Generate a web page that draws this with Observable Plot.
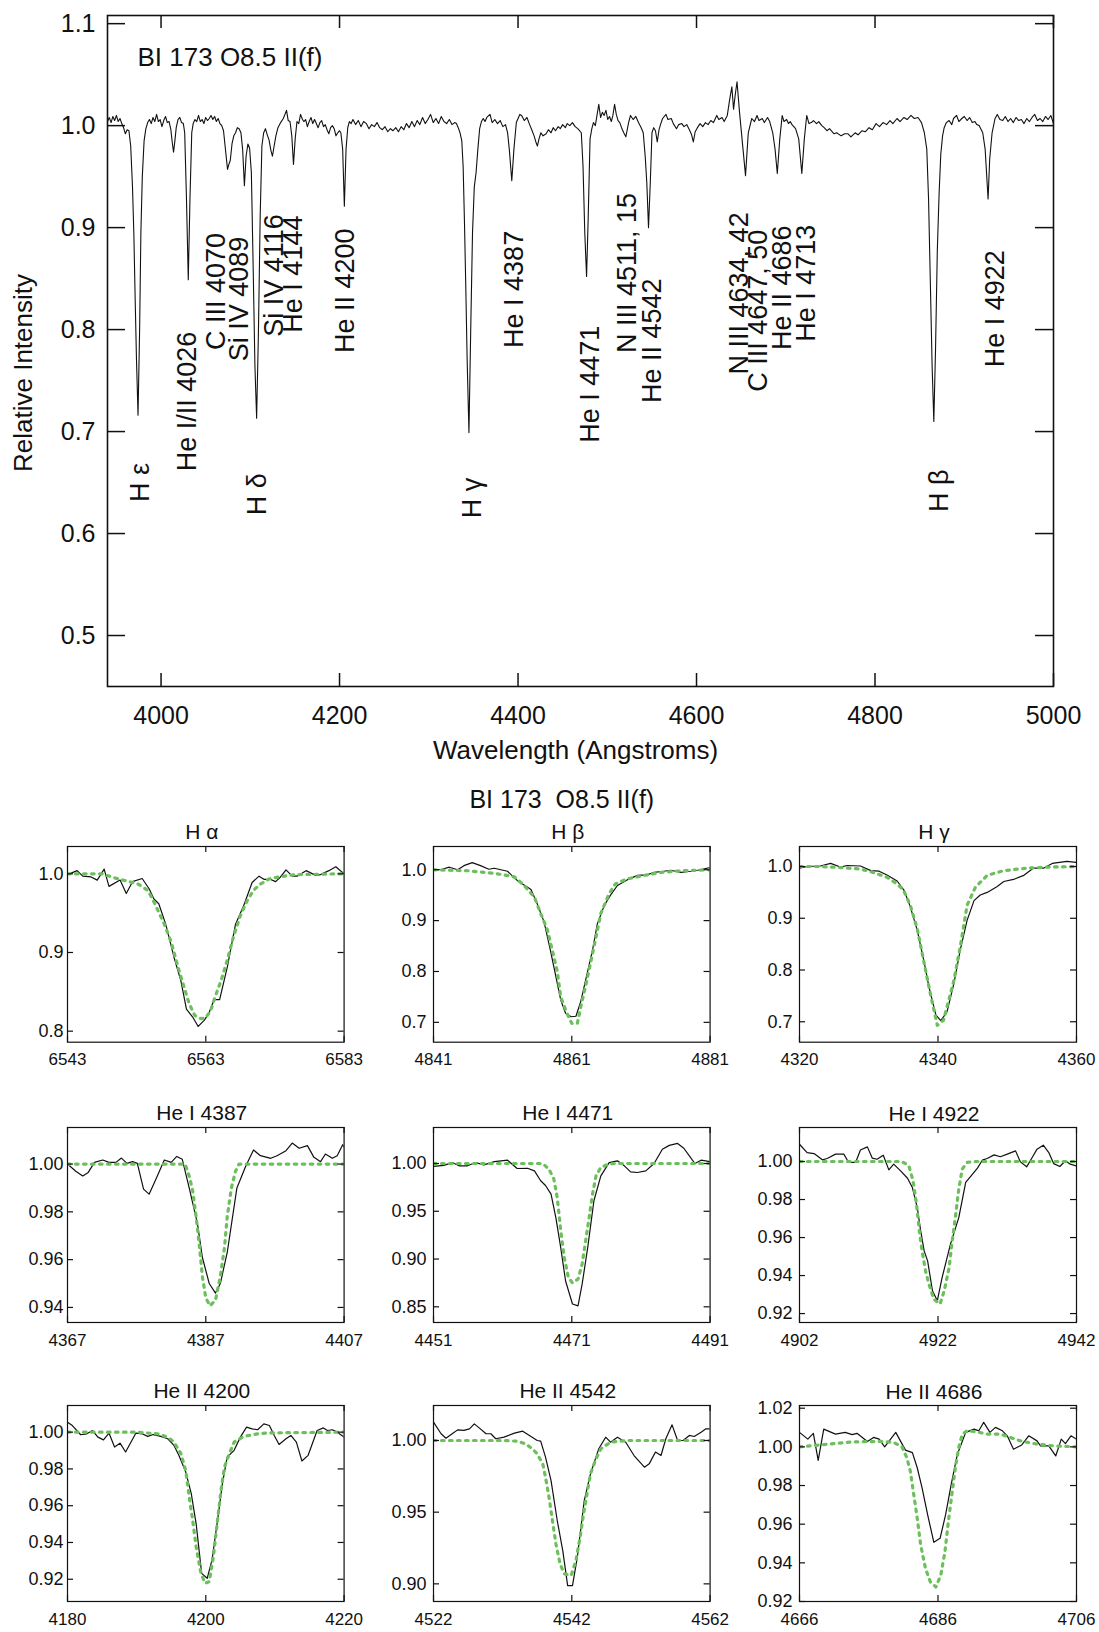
<!DOCTYPE html>
<html><head><meta charset="utf-8">
<script src="https://cdn.jsdelivr.net/npm/d3@7"></script>
<script src="https://cdn.jsdelivr.net/npm/@observablehq/plot@0.6"></script>
<style>
body{margin:0;background:#fff;}
#root{position:relative;width:1099px;height:1632px;overflow:hidden;background:#fff;}
#root svg{position:absolute;}
</style></head><body><div id="root"></div>
<script>
// ---------------- DATA ----------------
const topTitle = "BI 173 O8.5 II(f)";
const gridTitle = "BI 173  O8.5 II(f)";
const topXTicks = [4000, 4200, 4400, 4600, 4800, 5000];
const topYTicks = [0.5, 0.6, 0.7, 0.8, 0.9, 1.0, 1.1];
const topSpectrum = [
[3940,1.004],[3942,1.008],[3944,1.003],[3946,1.009],[3948,1.005],[3950,1.010],[3952,1.004],[3954,1.007],[3956,1.002],[3958,0.998],[3960,0.992],[3962,0.996],[3964,0.995],[3966,0.980],[3968,0.940],[3969.5,0.895],[3971,0.830],[3972.5,0.770],[3974.2,0.716],[3976,0.800],[3977.4,0.895],[3979,0.950],[3981,0.985],[3983,0.997],[3985,1.003],[3987,1.006],[3989,1.002],[3991,1.008],[3993,1.004],[3995,1.011],[3997,1.004],[3999,1.006],[4001,0.999],[4003,1.005],[4005,1.009],[4007,1.003],[4009,1.004],[4011,0.996],[4012.5,0.984],[4014,0.974],[4015.5,0.985],[4017,0.998],[4019,1.006],[4021,1.008],[4023,1.003],[4025,1.002],[4026.5,0.993],[4028.5,0.928],[4030.5,0.849],[4032.4,0.928],[4034.4,0.993],[4036,1.002],[4038,1.006],[4040,1.004],[4042,1.010],[4044,1.004],[4046,1.006],[4048,1.002],[4050,1.008],[4052,1.005],[4054,1.007],[4056,1.010],[4058,1.006],[4060,1.009],[4062,1.004],[4064,1.007],[4066,1.002],[4068,1.000],[4070,0.995],[4072,0.978],[4074.5,0.957],[4076,0.962],[4077.6,0.966],[4079.5,0.982],[4081.5,0.990],[4083.5,0.993],[4085.5,0.998],[4087.5,0.997],[4089.5,0.993],[4091.4,0.977],[4093.4,0.941],[4095.3,0.970],[4097.3,0.982],[4099.2,0.978],[4101.2,0.954],[4103.2,0.862],[4105.2,0.764],[4107.1,0.713],[4109.1,0.797],[4111.1,0.912],[4113,0.980],[4115,0.993],[4117,0.997],[4119,0.991],[4121,0.986],[4123,0.976],[4124.8,0.970],[4126.7,0.980],[4128.7,0.990],[4131,0.998],[4134,1.003],[4137,1.007],[4140.6,1.015],[4142.5,1.005],[4144.5,1.004],[4146.5,0.990],[4148.4,0.962],[4150.3,0.987],[4152.3,1.004],[4154.3,1.002],[4156.3,1.011],[4158.5,1.006],[4160,1.004],[4162,1.006],[4164,0.999],[4166,1.004],[4168,1.008],[4170,1.002],[4172,1.006],[4174,1.002],[4176,0.998],[4178,1.003],[4180,1.005],[4182,0.999],[4184,1.001],[4186,0.996],[4188,0.992],[4190,0.998],[4192,1.000],[4194,0.997],[4196,0.990],[4198,0.993],[4200,0.995],[4201.5,0.993],[4203.5,0.977],[4205.4,0.921],[4207.3,0.977],[4209.2,0.998],[4211,1.004],[4213,1.002],[4215,1.006],[4218,1.001],[4221,1.005],[4224,0.999],[4227,1.004],[4230,1.002],[4233,0.997],[4236,1.001],[4239,0.999],[4242,1.003],[4245,0.998],[4248,0.996],[4251,0.999],[4254,0.994],[4257,0.997],[4260,0.995],[4263,0.998],[4266,0.994],[4269,0.999],[4272,0.996],[4275,1.002],[4278,0.998],[4281,1.004],[4284,0.999],[4287,1.005],[4290,1.001],[4293,1.008],[4296,1.002],[4299,1.006],[4302,1.011],[4305,1.003],[4308,1.007],[4311,1.002],[4314,1.009],[4317,1.004],[4320,1.002],[4323,1.006],[4326,1.001],[4329,1.003],[4331,1.002],[4333,0.998],[4335,0.993],[4337,0.985],[4338.5,0.960],[4340,0.905],[4341.5,0.840],[4343,0.770],[4345,0.699],[4347,0.800],[4349,0.895],[4351,0.940],[4353,0.954],[4355,0.977],[4357,0.997],[4359,1.004],[4361,1.007],[4363,1.004],[4365,1.008],[4368.6,1.011],[4371,1.003],[4374,1.006],[4377,1.002],[4380,1.005],[4383,0.999],[4386,1.001],[4388.3,0.993],[4390.2,0.977],[4393,0.946],[4395.4,0.977],[4398.1,1.003],[4402,1.011],[4404,1.010],[4407,1.005],[4410,1.008],[4413,1.001],[4415.8,0.995],[4418,0.990],[4420,0.984],[4421.7,0.980],[4423.5,0.987],[4425.6,0.993],[4428,0.990],[4431.5,0.992],[4434,0.996],[4437,0.993],[4439.4,0.998],[4442,0.995],[4445,0.999],[4447.3,0.997],[4450,1.001],[4453,0.998],[4455.1,1.002],[4458,1.000],[4461,1.003],[4464,0.999],[4466.9,0.997],[4469,0.995],[4470.9,0.993],[4472.8,0.961],[4474.8,0.895],[4476.8,0.852],[4478.7,0.912],[4480.7,0.987],[4482.7,0.997],[4484.5,1.003],[4486.6,1.000],[4488.5,1.010],[4490.5,1.021],[4492.5,1.008],[4494.5,1.013],[4496.5,1.010],[4498.5,1.015],[4500.5,1.006],[4502.5,1.009],[4504.5,1.004],[4506.3,1.010],[4508.2,1.021],[4510.1,1.011],[4512.1,1.005],[4514,1.003],[4516,0.998],[4518.5,0.993],[4520.8,0.989],[4523.9,1.003],[4526,1.010],[4529,1.006],[4532,1.009],[4535,1.003],[4538,0.998],[4540.3,0.993],[4542.5,0.970],[4544.3,0.944],[4546.2,0.900],[4548.2,0.944],[4550.1,0.993],[4552,0.998],[4554,0.995],[4556,0.984],[4558,0.996],[4560,1.002],[4562,1.007],[4565.8,1.011],[4568,1.006],[4571.7,1.007],[4574,1.002],[4577.6,0.997],[4580,1.001],[4583.5,1.002],[4586,0.999],[4589,1.001],[4592,0.996],[4594.5,0.991],[4596.4,0.984],[4598.5,0.994],[4601,0.998],[4604,1.002],[4607,0.999],[4610,1.003],[4613,1.001],[4616,1.005],[4619,1.003],[4622.7,1.010],[4625,1.006],[4628.6,1.008],[4631,1.004],[4634.5,1.010],[4637.2,1.026],[4639.6,1.038],[4641.5,1.016],[4643.5,1.031],[4645.4,1.043],[4648.2,1.013],[4652.1,0.977],[4654.9,0.951],[4658,0.993],[4661.9,1.007],[4665,1.004],[4667.8,1.010],[4670,1.005],[4673.7,1.007],[4676,1.003],[4679.6,1.008],[4682,1.004],[4685.4,0.993],[4688,0.977],[4690.5,0.953],[4693.3,0.987],[4696,1.010],[4698,1.004],[4701,1.006],[4703,1.002],[4705,1.004],[4707,1.001],[4711,0.997],[4714.5,0.987],[4718,0.953],[4720.8,0.987],[4723.5,1.010],[4726,1.002],[4728.6,1.003],[4731,1.005],[4734.5,1.002],[4737,1.004],[4740.4,1.000],[4743,0.998],[4746.2,0.995],[4749,0.997],[4754.1,0.992],[4757,0.993],[4762,0.990],[4766,0.992],[4769.8,0.992],[4773,0.989],[4777.7,0.993],[4781,0.991],[4785.5,0.995],[4789,0.994],[4793.3,0.998],[4797,0.996],[4801.2,1.002],[4805,0.999],[4809,1.003],[4813,1.001],[4816.8,1.005],[4820,1.002],[4824.7,1.007],[4828,1.004],[4832.5,1.008],[4836,1.006],[4840.3,1.010],[4844,1.007],[4848.2,1.008],[4852.1,1.003],[4855.3,0.993],[4858,0.977],[4860,0.928],[4862,0.846],[4864,0.764],[4865.9,0.710],[4867.8,0.780],[4869.8,0.877],[4871.8,0.933],[4873.7,0.972],[4875.7,0.990],[4877.5,0.998],[4880,1.003],[4883,1.005],[4886,1.001],[4888,1.007],[4891.4,1.010],[4894,1.004],[4897.3,1.007],[4900,1.009],[4903.2,1.005],[4906,1.008],[4909,1.003],[4912,1.004],[4914,1.001],[4916.8,1.000],[4920.7,0.993],[4923.4,0.977],[4926.7,0.928],[4928.5,0.967],[4931.2,0.993],[4934.5,1.007],[4937,1.011],[4940,1.006],[4943.2,1.005],[4946,1.009],[4949,1.004],[4952,1.007],[4955,1.003],[4958,1.008],[4961,1.005],[4964,1.006],[4967,1.002],[4970,1.007],[4973,1.004],[4976,1.008],[4979,1.011],[4982,1.005],[4985,1.007],[4988,1.004],[4991,1.009],[4994,1.006],[4997,1.010],[5000,1.002]
];
const lineLabels = [
  {text:"H ε", x:3977, y:0.631},
  {text:"He I/II 4026", x:4030, y:0.661},
  {text:"C III 4070", x:4062, y:0.780},
  {text:"Si IV 4089", x:4087.5, y:0.769},
  {text:"H δ", x:4108, y:0.618},
  {text:"Si IV 4116", x:4127, y:0.793},
  {text:"He I 4144", x:4148, y:0.797},
  {text:"He II 4200", x:4207, y:0.777},
  {text:"H γ", x:4348.5, y:0.615},
  {text:"He I 4387", x:4396, y:0.782},
  {text:"He I 4471", x:4480.5, y:0.689},
  {text:"N III 4511, 15", x:4522, y:0.777},
  {text:"He II 4542", x:4551, y:0.728},
  {text:"N III 4634, 42", x:4648, y:0.756},
  {text:"C III 4647, 50", x:4669.5, y:0.739},
  {text:"He II 4686", x:4696, y:0.780},
  {text:"He I 4713", x:4722.7, y:0.788},
  {text:"H β", x:4872, y:0.621},
  {text:"He I 4922", x:4934.5, y:0.763}
];

const panelTitles = ["H α","H β","H γ","He I 4387","He I 4471","He I 4922","He II 4200","He II 4542","He II 4686"];
const panelXTicks = [[6543,6563,6583],[4841,4861,4881],[4320,4340,4360],[4367,4387,4407],[4451,4471,4491],[4902,4922,4942],[4180,4200,4220],[4522,4542,4562],[4666,4686,4706]];
const panelYTicks = [[0.8,0.9,1.0],[0.7,0.8,0.9,1.0],[0.7,0.8,0.9,1.0],[0.94,0.96,0.98,1.00],[0.85,0.90,0.95,1.00],[0.92,0.94,0.96,0.98,1.00],[0.92,0.94,0.96,0.98,1.00],[0.90,0.95,1.00],[0.92,0.94,0.96,0.98,1.00,1.02]];

const haObs = [[6543,0.999],[6544.4,1.004],[6545.2,0.997],[6546.4,0.996],[6547.3,0.992],[6548.3,1.006],[6549.0,0.984],[6550.6,0.992],[6551.5,0.975],[6552.4,0.990],[6553.8,0.994],[6554.8,0.981],[6555.5,0.968],[6556.2,0.962],[6557.2,0.936],[6558.4,0.894],[6559.4,0.864],[6560.2,0.828],[6561.1,0.818],[6561.9,0.806],[6562.8,0.814],[6563.5,0.824],[6564.2,0.840],[6565.0,0.840],[6566.1,0.881],[6567.3,0.936],[6568.5,0.960],[6569.7,0.989],[6570.7,0.997],[6571.4,0.993],[6572.3,0.993],[6573.1,0.990],[6573.8,0.996],[6574.6,1.005],[6575.5,0.997],[6576.2,0.997],[6577.5,1.004],[6578.9,0.998],[6579.6,0.999],[6580.8,1.004],[6581.8,1.009],[6583,1.0]];
const haModel = [[6543,1.0],[6548,1.0],[6549.7,0.995],[6551.5,0.991],[6553.2,0.987],[6554.6,0.979],[6555.3,0.968],[6557,0.936],[6558,0.913],[6559,0.881],[6560,0.852],[6560.6,0.835],[6561.4,0.82],[6562.3,0.816],[6563,0.817],[6563.7,0.826],[6564.4,0.845],[6565.2,0.864],[6566.1,0.89],[6567,0.92],[6568,0.947],[6569,0.966],[6569.9,0.979],[6570.9,0.987],[6572.3,0.994],[6573.5,0.996],[6576,0.999],[6583,1.0]];
const hbObs = [[4841,1.0],[4842,1.0],[4843.3,1.005],[4844.5,1.0],[4845.4,1.008],[4846.6,1.014],[4847.8,1.008],[4849,1.001],[4849.8,1.003],[4851.7,0.997],[4853.1,0.979],[4855.1,0.961],[4856,0.933],[4857,0.897],[4857.9,0.842],[4858.7,0.79],[4859.4,0.744],[4860.1,0.718],[4860.9,0.711],[4861.6,0.712],[4862.3,0.741],[4863,0.783],[4864,0.842],[4864.7,0.894],[4865.7,0.93],[4866.6,0.95],[4867.6,0.969],[4869,0.98],[4870.5,0.989],[4871.9,0.99],[4872.9,0.995],[4874.3,0.997],[4875.3,0.999],[4876.8,0.995],[4878.2,0.997],[4879.2,0.999],[4881,1.004]];
const hbModel = [[4841,1.0],[4846,0.998],[4849,0.994],[4850.7,0.991],[4852.7,0.986],[4854.1,0.969],[4855.6,0.946],[4856.5,0.914],[4857.5,0.881],[4858.9,0.8],[4859.4,0.75],[4860.3,0.718],[4861,0.698],[4861.8,0.698],[4862.3,0.73],[4863.3,0.79],[4864.2,0.848],[4865.2,0.914],[4866.4,0.953],[4867.3,0.972],[4869,0.982],[4871.5,0.989],[4874,0.995],[4877,0.998],[4881,1.0]];
const hgObs = [[4320,0.997],[4321.1,1.0],[4323,1.001],[4324.5,1.006],[4325.9,0.999],[4326.9,1.002],[4328.8,1.001],[4330.3,0.992],[4331.5,0.991],[4332.7,0.983],[4334.1,0.972],[4335.1,0.954],[4336,0.922],[4337,0.877],[4338,0.815],[4338.7,0.767],[4339.7,0.713],[4340.4,0.702],[4341.3,0.719],[4342.3,0.774],[4343.2,0.838],[4344.2,0.896],[4345.2,0.934],[4346.1,0.945],[4347.1,0.95],[4348.5,0.961],[4349.5,0.971],[4350.9,0.975],[4352.4,0.983],[4353.8,0.997],[4355.3,0.997],[4356.5,1.006],[4358.6,1.01],[4360,1.008]];
const hgModel = [[4320,1.0],[4323,1.0],[4326,0.998],[4328.8,0.995],[4330.3,0.99],[4332.7,0.979],[4334.1,0.966],[4335,0.955],[4336,0.925],[4337,0.88],[4338.2,0.8],[4338.9,0.754],[4339.9,0.693],[4340.8,0.703],[4342.3,0.78],[4343.2,0.844],[4344.2,0.925],[4345.4,0.96],[4347.1,0.983],[4349.5,0.992],[4352.9,0.997],[4356,0.999],[4360,1.0]];
const he4387Obs = [[4367,1.0],[4368.2,0.997],[4369.2,0.995],[4370,0.9965],[4370.9,1.0007],[4372.1,1.0017],[4373,1.0007],[4374,1.0007],[4374.8,1.0025],[4375.6,1.0003],[4376.4,1.001],[4377.1,1.0003],[4378,0.9895],[4378.8,0.9874],[4379.8,0.9937],[4381,1.0017],[4382,1.0007],[4382.8,1.0032],[4383.6,1.002],[4384.6,0.99],[4385.8,0.975],[4386.5,0.961],[4387.5,0.95],[4388.4,0.946],[4389.1,0.95],[4390.1,0.963],[4391.5,0.99],[4392.8,0.9993],[4393.9,1.0059],[4394.9,1.0035],[4396.4,1.0024],[4397.3,1.0035],[4398.6,1.0056],[4399.5,1.0088],[4400.5,1.0066],[4401.7,1.0077],[4402.6,1.003],[4403.6,1.001],[4404.3,1.0042],[4405.3,1.0024],[4406,1.0035],[4406.8,1.0081],[4407,1.007]];
const he4387Model = [[4367,1.0],[4384,1.0],[4384.6,0.995],[4385.1,0.989],[4385.6,0.978],[4386.1,0.965],[4386.5,0.953],[4387,0.944],[4387.6,0.9407],[4388.4,0.943],[4389.1,0.953],[4389.7,0.965],[4390.1,0.978],[4390.7,0.99],[4391.3,0.997],[4391.8,1.0],[4407,1.0]];
const he4471Obs = [[4451,0.997],[4452.5,0.998],[4453.7,1.001],[4454.7,0.9976],[4455.9,0.9976],[4457.1,1.001],[4458.3,0.9986],[4459.8,1.002],[4461.7,1.0035],[4463.1,0.9948],[4464.6,0.995],[4465.6,0.9923],[4466.5,0.982],[4467.2,0.977],[4468,0.968],[4468.7,0.943],[4469.4,0.912],[4470.1,0.877],[4471.1,0.853],[4471.9,0.851],[4472.5,0.874],[4473.3,0.912],[4474.2,0.961],[4475.2,0.987],[4476.4,1.001],[4477.6,1.0028],[4478.6,0.9976],[4479.5,0.9913],[4480.5,0.9906],[4481.7,0.9923],[4482.9,1.0],[4484.1,1.015],[4485.1,1.019],[4486.3,1.021],[4487.2,1.016],[4488,1.008],[4488.8,1.0],[4489.7,1.0035],[4491,1.002]];
const he4471Model = [[4451,1.0],[4466.8,1.0],[4467.7,0.994],[4468.4,0.984],[4468.9,0.964],[4469.4,0.93],[4469.9,0.902],[4470.5,0.881],[4471.1,0.875],[4471.9,0.879],[4472.5,0.895],[4473,0.919],[4473.5,0.943],[4474,0.968],[4474.5,0.987],[4475.2,0.996],[4476.2,0.999],[4477,1.0],[4491,1.0]];
const he4922Obs = [[4902,1.0091],[4903.1,1.0047],[4904.1,1.0042],[4905.3,1.0009],[4906,1.0016],[4907.2,1.0039],[4908.4,1.0039],[4909.1,0.9995],[4910.1,0.9995],[4910.8,1.0061],[4911.8,1.0077],[4912.5,1.0018],[4913.2,1.0012],[4914.1,1.0033],[4914.9,0.9956],[4915.6,0.9986],[4916.6,0.9951],[4917.6,0.9912],[4918.3,0.9863],[4919,0.9758],[4919.5,0.9635],[4920,0.953],[4920.5,0.9477],[4921.2,0.932],[4921.9,0.9267],[4922.6,0.939],[4923.8,0.9565],[4925,0.9705],[4926,0.989],[4926.9,0.993],[4927.7,0.9965],[4928.4,1.0007],[4929.1,1.0016],[4930.1,1.0035],[4931,1.0025],[4932,1.0039],[4933.2,1.0056],[4933.9,0.9998],[4934.8,0.9972],[4935.6,1.0021],[4936.3,1.0065],[4937.2,1.0086],[4938,1.0047],[4938.7,0.9989],[4939.6,0.9974],[4940.4,1.0004],[4941.1,0.9986],[4942,0.9977]];
const he4922Model = [[4902,1.0],[4916.8,1.0],[4917.8,0.9977],[4918.4,0.9898],[4918.9,0.9775],[4919.3,0.9635],[4919.7,0.953],[4920.2,0.9425],[4920.7,0.9354],[4921.4,0.9275],[4922.3,0.925],[4922.9,0.932],[4923.6,0.944],[4924,0.9565],[4924.5,0.9705],[4925,0.9854],[4925.5,0.996],[4926.2,0.9995],[4927,1.0],[4942,1.0]];
const he4200Obs = [[4180,1.0054],[4180.7,1.0036],[4181.9,0.9986],[4182.8,0.9991],[4183.6,1.0009],[4184.4,0.9973],[4185.2,0.9958],[4186,0.9995],[4186.8,0.9919],[4187.6,0.994],[4188.4,0.9892],[4189.9,0.9995],[4190.8,0.9991],[4191.6,0.9977],[4192.4,0.9987],[4193.5,0.9977],[4194.5,0.9964],[4195.4,0.9928],[4196.1,0.9874],[4197.1,0.9783],[4197.9,0.9666],[4198.6,0.9503],[4199.4,0.9232],[4200.2,0.9205],[4200.9,0.9305],[4201.7,0.9521],[4202.4,0.972],[4203.1,0.9865],[4204.1,0.9901],[4205,0.9973],[4205.9,1.0027],[4206.7,1.0018],[4207.5,1.0013],[4208.4,1.0045],[4209.2,1.0036],[4209.9,0.9982],[4210.6,0.9933],[4211.6,0.9964],[4212.3,0.9982],[4213.1,0.9946],[4213.9,0.9843],[4214.8,0.9874],[4216.1,1.0009],[4217,1.0023],[4217.6,1.0009],[4218.3,1.0013],[4219,1.0],[4220,0.9973]];
const he4200Model = [[4180,1.0],[4190,1.0],[4193,0.9991],[4194.5,0.9973],[4195.4,0.9946],[4196.4,0.9883],[4197.1,0.9792],[4197.6,0.9648],[4198.1,0.9521],[4198.6,0.9377],[4199.3,0.9232],[4199.9,0.9178],[4200.5,0.9187],[4201.1,0.9323],[4201.7,0.9521],[4202.2,0.9684],[4202.7,0.981],[4203.4,0.9883],[4204.1,0.9946],[4205.5,0.9977],[4207.5,0.9991],[4209,0.9996],[4220,1.0]];
const he4542Obs = [[4522,1.0128],[4523.1,1.0047],[4523.8,1.0016],[4524.7,1.0047],[4525.5,1.0074],[4526.4,1.007],[4527.2,1.0081],[4527.9,1.0116],[4528.6,1.0088],[4529.6,1.0047],[4530.3,1.0047],[4531,1.0012],[4532.2,1.0023],[4533.7,1.0051],[4534.9,1.0065],[4536.1,1.0028],[4537,1.0],[4537.5,0.9995],[4538.2,0.9884],[4539,0.972],[4539.9,0.944],[4540.7,0.923],[4541.4,0.8988],[4542.1,0.8988],[4542.8,0.9186],[4543.8,0.9581],[4544.7,0.9767],[4545.9,0.9942],[4546.9,1.0023],[4547.6,0.9988],[4548.6,1.0023],[4549.8,0.9988],[4551,0.9895],[4552.5,0.9814],[4553.2,0.9837],[4554.1,0.9919],[4554.9,0.9895],[4555.6,1.0012],[4556.5,1.0109],[4557.3,1.0],[4558.1,1.0],[4559,1.0035],[4559.7,1.0028],[4560.7,1.0058],[4561.4,1.0081],[4562,1.0081]];
const he4542Model = [[4522,1.0],[4532.2,1.0],[4534.1,0.9995],[4535.3,0.9977],[4536.3,0.9942],[4537,0.9907],[4537.8,0.9837],[4538.2,0.9744],[4538.7,0.9605],[4539.2,0.9442],[4539.7,0.9279],[4540.3,0.914],[4540.9,0.907],[4541.9,0.9058],[4542.6,0.9163],[4543.2,0.9326],[4543.7,0.9488],[4544.2,0.9628],[4544.7,0.9767],[4545.5,0.9872],[4546.2,0.9942],[4547.6,0.9988],[4550,1.0],[4562,1.0]];
const he4686Obs = [[4666,1.0075],[4667.2,1.004],[4668,1.007],[4668.7,0.993],[4669.5,1.0092],[4671.2,1.0066],[4672.6,1.0075],[4673.6,1.0063],[4674.3,1.007],[4675.8,1.0028],[4676.7,1.0049],[4677.5,1.004],[4678.3,1.0],[4679.9,1.0075],[4681.3,0.9983],[4682.3,0.997],[4683,0.9892],[4683.7,0.9788],[4684.5,0.9649],[4685.4,0.9506],[4686.3,0.9527],[4687.1,0.9649],[4687.9,0.9805],[4688.8,0.9962],[4690,1.0075],[4691.2,1.0092],[4691.9,1.0083],[4692.6,1.0127],[4693.5,1.0075],[4694.3,1.0101],[4695.3,1.0083],[4696,1.0057],[4696.9,0.9988],[4698.1,1.001],[4699.1,1.0057],[4700.3,1.0031],[4700.8,1.0005],[4702,1.0005],[4703,0.9953],[4703.8,1.004],[4704.4,1.0017],[4705.2,1.0057],[4706,1.004]];
const he4686Model = [[4666,1.0],[4669,1.001],[4673.8,1.0026],[4677.7,1.0028],[4679.6,1.0023],[4680.8,1.0],[4681.5,0.9944],[4682,0.9875],[4682.5,0.9753],[4683,0.9631],[4683.5,0.9492],[4684.2,0.937],[4684.9,0.9301],[4685.7,0.9275],[4686.4,0.9336],[4687,0.9457],[4687.5,0.9614],[4688,0.9753],[4688.5,0.9892],[4689,0.9997],[4689.5,1.0066],[4690.2,1.0083],[4691.6,1.0078],[4693.1,1.0066],[4695,1.0066],[4696.4,1.0049],[4697.9,1.0031],[4700.3,1.0014],[4702.7,1.0005],[4706,1.0]];

const panelObs = [haObs, hbObs, hgObs, he4387Obs, he4471Obs, he4922Obs, he4200Obs, he4542Obs, he4686Obs];
const panelModel = [haModel, hbModel, hgModel, he4387Model, he4471Model, he4922Model, he4200Model, he4542Model, he4686Model];

// ---------------- LAYOUT / STYLE ----------------
const FONT = '"Liberation Sans", Arial, Helvetica, sans-serif';
const INK = "#111";
const GREEN = "#6cc05c";
const root = document.getElementById("root");
function place(svg, left, top) { svg.style.left = left + "px"; svg.style.top = top + "px"; root.appendChild(svg); }

// top panel
const TF = {left: 107, right: 1053, top: 15, bottom: 686};
const TW = 1099, TH = 775;
const tfw = TF.right - TF.left, tfh = TF.bottom - TF.top;
const topPlot = Plot.plot({
  width: TW, height: TH,
  marginLeft: TF.left, marginRight: TW - TF.right, marginTop: TF.top, marginBottom: TH - TF.bottom,
  style: {fontFamily: FONT, fontSize: "26px", color: INK, background: "transparent", overflow: "visible"},
  x: {domain: [3940, 5000]},
  y: {domain: [0.45, 1.108]},
  marks: [
    Plot.line(topSpectrum, {x: d => d[0], y: d => d[1], stroke: INK, strokeWidth: 1.1, clip: true}),
    Plot.frame({stroke: INK, strokeWidth: 1.6}),
    Plot.tickX(topXTicks, {x: d => d, insetTop: tfh - 13, stroke: INK, strokeWidth: 1.5}),
    Plot.tickX(topXTicks, {x: d => d, insetBottom: tfh - 13, stroke: INK, strokeWidth: 1.5}),
    Plot.tickY(topYTicks, {y: d => d, insetRight: tfw - 18, stroke: INK, strokeWidth: 1.5}),
    Plot.tickY(topYTicks, {y: d => d, insetLeft: tfw - 18, stroke: INK, strokeWidth: 1.5}),
    Plot.axisX(topXTicks, {tickSize: 0, tickPadding: 20, tickFormat: d => String(d), label: null, fontSize: 25}),
    Plot.axisY(topYTicks, {tickSize: 0, tickPadding: 12, tickFormat: d3.format(".1f"), label: null, fontSize: 25}),
    Plot.text(lineLabels, {x: "x", y: "y", text: "text", rotate: -90, textAnchor: "start", lineAnchor: "middle", fontSize: 27, fill: INK}),
    Plot.text([topTitle], {text: d => d, frameAnchor: "top-left", dx: 30, dy: 50, lineAnchor: "bottom", textAnchor: "start", fontSize: 26, fill: INK}),
    Plot.text(["Relative Intensity"], {text: d => d, frameAnchor: "left", dx: -84, dy: 22, rotate: -90, textAnchor: "middle", lineAnchor: "middle", fontSize: 26, fill: INK}),
    Plot.text(["Wavelength (Angstroms)"], {text: d => d, frameAnchor: "bottom", dx: -5, dy: 64, textAnchor: "middle", lineAnchor: "middle", fontSize: 26, fill: INK})
  ]
});
place(topPlot, 0, 0);

// grid panels
const colFrames = [[66.7, 343.3], [432.7, 709.3], [799, 1076]];
const rowFrames = [[846, 1041.7], [1126.7, 1321.7], [1405, 1601]];
const yDomains = [[0.786, 1.0347], [0.661, 1.0457], [0.6605, 1.0387], [0.9337, 1.0153], [0.8336, 1.0377], [0.9153, 1.0179], [0.9079, 1.0145], [0.8877, 1.0244], [0.92, 1.0214]];
const yFormats = [".1f", ".1f", ".1f", ".2f", ".2f", ".2f", ".2f", ".2f", ".2f"];
const ML = 62, MR = 22, MT = 56, MB = 30;

for (let i = 0; i < 9; i++) {
  const c = i % 3, r = Math.floor(i / 3);
  const [fl, fr] = colFrames[c], [ft, fb] = rowFrames[r];
  const fw = fr - fl, fh = fb - ft;
  const xt = panelXTicks[i];
  const marks = [
    Plot.line(panelObs[i], {x: d => d[0], y: d => d[1], stroke: INK, strokeWidth: 1.2, clip: true}),
    Plot.line(panelModel[i], {x: d => d[0], y: d => d[1], stroke: GREEN, strokeWidth: 3.2, strokeDasharray: "2.6,5.4", clip: true}),
    Plot.frame({stroke: INK, strokeWidth: 1.2}),
    Plot.tickX(xt, {x: d => d, insetTop: fh - 6, stroke: INK, strokeWidth: 1.2}),
    Plot.tickX(xt, {x: d => d, insetBottom: fh - 6, stroke: INK, strokeWidth: 1.2}),
    Plot.tickY(panelYTicks[i], {y: d => d, insetRight: fw - 6, stroke: INK, strokeWidth: 1.2}),
    Plot.tickY(panelYTicks[i], {y: d => d, insetLeft: fw - 6, stroke: INK, strokeWidth: 1.2}),
    Plot.axisX(xt, {tickSize: 0, tickPadding: 11, tickFormat: d => String(d), label: null, fontSize: 17}),
    Plot.axisY(panelYTicks[i], {tickSize: 0, tickPadding: c === 0 ? 4 : 7, tickFormat: d3.format(yFormats[i]), label: null, fontSize: 18}),
    Plot.text([panelTitles[i]], {text: d => d, frameAnchor: "top", dx: -4, dy: -7, textAnchor: "middle", lineAnchor: "bottom", fontSize: 21, fill: INK})
  ];
  if (i === 1) {
    marks.push(Plot.text([gridTitle], {text: d => d, frameAnchor: "top", dx: -10, dy: -38, textAnchor: "middle", lineAnchor: "bottom", fontSize: 25, fill: INK}));
  }
  const p = Plot.plot({
    width: ML + fw + MR, height: MT + fh + MB,
    marginLeft: ML, marginRight: MR, marginTop: MT, marginBottom: MB,
    style: {fontFamily: FONT, fontSize: "18px", color: INK, background: "transparent", overflow: "visible"},
    x: {domain: [xt[0], xt[2]]},
    y: {domain: yDomains[i]},
    marks
  });
  place(p, fl - ML, ft - MT);
}
</script>
</body></html>
